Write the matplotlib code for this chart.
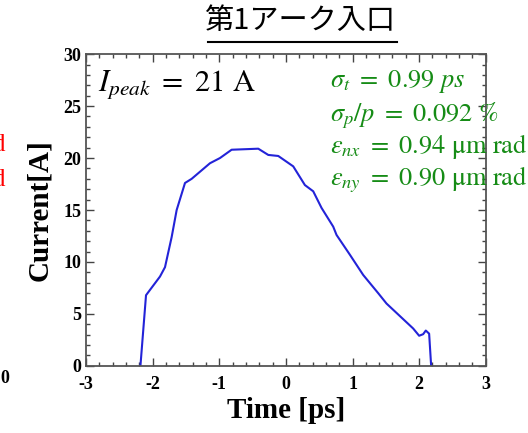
import numpy as np
import matplotlib.pyplot as plt
from matplotlib.lines import Line2D
from matplotlib.ticker import MultipleLocator

plt.rcParams['font.family'] = ['Liberation Serif', 'DejaVu Serif']
plt.rcParams['mathtext.fontset'] = 'stix'
plt.rcParams['axes.unicode_minus'] = False

# Current profile
time_ps = [-2.19, -2.10, -1.89, -1.815, -1.715, -1.64, -1.515, -1.415, -1.14, -0.99,
           -0.815, -0.415, -0.265, -0.115, 0.11, 0.285, 0.41, 0.535, 0.71, 0.76,
           0.96, 1.16, 1.385, 1.51, 1.66, 1.81, 1.91, 2.0, 2.06, 2.10, 2.15, 2.185]
current_a = [-0.5, 6.8, 8.6, 9.5, 12.4, 15.0, 17.6, 18.0, 19.5, 20.0,
             20.8, 20.9, 20.3, 20.2, 19.2, 17.4, 16.8, 15.2, 13.4, 12.6,
             10.7, 8.75, 7.0, 6.0, 5.1, 4.2, 3.6, 2.9, 3.05, 3.4, 3.1, -0.5]

title = '第1アーク入口'
beam_params = [r'$\sigma_t\ =\ 0.99\ ps$',
               r'$\sigma_p/p\ =\ 0.092\ \%$',
               r'$\varepsilon_{nx}\ =\ 0.94\ \mathrm{\mu m\ rad}$',
               r'$\varepsilon_{ny}\ =\ 0.90\ \mathrm{\mu m\ rad}$']

fig = plt.figure(figsize=(5.28, 4.33), dpi=100)
ax = fig.add_axes([0.163, 0.155, 0.757, 0.72])
ax.plot(time_ps, current_a, color='#2323d8', linewidth=1.5)
ax.set_xlim(-3, 3)
ax.set_ylim(0, 30)
ax.xaxis.set_major_locator(MultipleLocator(1))
ax.xaxis.set_minor_locator(MultipleLocator(0.2))
ax.yaxis.set_major_locator(MultipleLocator(5))
ax.yaxis.set_minor_locator(MultipleLocator(1))
ax.tick_params(which='both', direction='in', top=True, right=True, color='#444444')
ax.tick_params(which='major', length=6, width=1)
ax.tick_params(which='minor', length=3, width=1)
ax.tick_params(axis='x', pad=7)
for s in ax.spines.values():
    s.set_color('#555555')
    s.set_linewidth(1.3)
for lab in ax.get_xticklabels() + ax.get_yticklabels():
    lab.set_fontweight('bold')
    lab.set_fontsize(13)

ax.set_xlabel('Time [ps]', fontsize=21, fontweight='bold', labelpad=3)
ax.set_ylabel('Current[A]', fontsize=21, fontweight='bold', labelpad=7)

ax.text(0.03, 0.955, r'$I_{peak}\ =\ 21\ \mathrm{A}$', transform=ax.transAxes,
        fontsize=22, va='top', ha='left')
for i, t in enumerate(beam_params):
    ax.text(0.61, 0.955 - i * 0.103, t, transform=ax.transAxes,
            fontsize=19, color='#168c16', va='top', ha='left')

fig.text(0.568, 0.952, title, family=['Noto Sans CJK JP', 'DejaVu Sans'],
         fontsize=21, ha='center', va='center')
fig.add_artist(Line2D([0.393, 0.752], [0.902, 0.902], transform=fig.transFigure,
                      color='black', linewidth=1.5))

# remnants of the neighbouring panel cut by the left edge
fig.text(0.012, 0.665, 'rad', color='red', fontsize=19, ha='right', va='center')
fig.text(0.012, 0.585, 'rad', color='red', fontsize=19, ha='right', va='center')
fig.text(0.018, 0.127, '0', fontsize=13, fontweight='bold', ha='right', va='center')

fig.savefig('out.png', dpi=100)
